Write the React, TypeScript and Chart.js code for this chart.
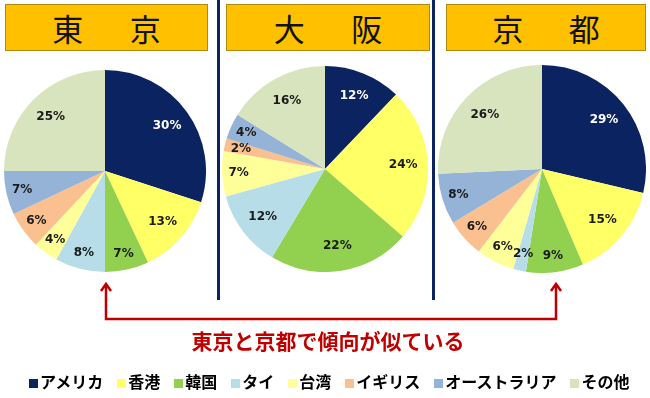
import React, { useEffect, useRef } from "react";
import { Chart, registerables } from "chart.js";

Chart.register(...registerables);

const categories = ["アメリカ", "香港", "韓国", "タイ", "台湾", "イギリス", "オーストラリア", "その他"];
const colors = ["#0B2461", "#FFFF66", "#92D050", "#B7DEE8", "#FFFF99", "#FAC090", "#95B3D7", "#D7E4BD"];
const cities = ["東京", "大阪", "京都"];
const tokyoValues = [30, 13, 7, 8, 4, 6, 7, 25];
const osakaValues = [12, 24, 22, 12, 7, 2, 4, 16];
const kyotoValues = [29, 15, 9, 2, 6, 6, 8, 26];
const seriesValues = [tokyoValues, osakaValues, kyotoValues];
const noteText = "東京と京都で傾向が似ている";

const labelPlugin = {
  id: "pctLabels",
  afterDatasetsDraw(chart: any) {
    const ctx = chart.ctx;
    const meta = chart.getDatasetMeta(0);
    const data = chart.data.datasets[0].data as number[];
    ctx.save();
    ctx.font = "bold 12px 'DejaVu Sans', Verdana, sans-serif";
    ctx.textAlign = "center";
    ctx.textBaseline = "middle";
    meta.data.forEach((arc: any, i: number) => {
      const p = arc.getProps(["x", "y", "startAngle", "endAngle", "outerRadius"], true);
      const mid = (p.startAngle + p.endAngle) / 2;
      const v = data[i];
      const f = v < 10 ? 0.84 : 0.76;
      const x = p.x + Math.cos(mid) * p.outerRadius * f;
      const y = p.y + Math.sin(mid) * p.outerRadius * f;
      ctx.fillStyle = i === 0 ? "#FFFFFF" : "#1A1A1A";
      ctx.fillText(v + "%", x, y);
    });
    ctx.restore();
  },
};

function Pie({ values, size }: { values: number[]; size: number }) {
  const ref = useRef<HTMLCanvasElement>(null);
  useEffect(() => {
    if (!ref.current) return;
    const chart = new Chart(ref.current, {
      type: "pie",
      data: {
        labels: categories,
        datasets: [{ data: values, backgroundColor: colors, borderWidth: 0 }],
      },
      options: {
        responsive: false,
        animation: false,
        layout: { padding: 0 },
        plugins: { legend: { display: false }, tooltip: { enabled: false }, title: { display: false } },
      },
      plugins: [labelPlugin],
    });
    return () => chart.destroy();
  }, [values]);
  return <canvas ref={ref} width={size} height={size} style={{ width: size, height: size, display: "block" }} />;
}

const pieBoxes = [
  { left: 4, top: 70, size: 202 },
  { left: 222, top: 66, size: 206 },
  { left: 438, top: 65, size: 208 },
];
const titleBoxes = [
  { left: 5, width: 203 },
  { left: 226, width: 204 },
  { left: 446, width: 200 },
];
const dividers = [217, 432];

export default function App() {
  const jp = "'Noto Sans CJK JP', 'Noto Sans', sans-serif";
  return (
    <div style={{ position: "absolute", left: 0, top: 0, width: 650, height: 398, background: "#fff", overflow: "hidden", fontFamily: jp }}>
      {titleBoxes.map((b, i) => (
        <div
          key={"t" + i}
          style={{
            position: "absolute", left: b.left, top: 4, width: b.width, height: 47, boxSizing: "border-box",
            background: "#FFC000", border: "1px solid #B08A10", display: "flex", justifyContent: "space-evenly",
            alignItems: "center", fontSize: 31, fontWeight: 400, color: "#111", lineHeight: 1,
          }}
        >
          {Array.from(cities[i]).map((c, j) => (
            <span key={j}>{c}</span>
          ))}
        </div>
      ))}
      {dividers.map((x, i) => (
        <div key={"d" + i} style={{ position: "absolute", left: x, top: 0, width: 3, height: 300, background: "#0B2461" }} />
      ))}
      {pieBoxes.map((b, i) => (
        <div key={"p" + i} style={{ position: "absolute", left: b.left, top: b.top, width: b.size, height: b.size }}>
          <Pie values={seriesValues[i]} size={b.size} />
        </div>
      ))}
      <svg style={{ position: "absolute", left: 0, top: 0 }} width={650} height={398}>
        <path d="M106 286 L106 319 L556 319 L556 286" fill="none" stroke="#C00000" strokeWidth={2.5} />
        <path d="M101 291 L106 284 L111 291" fill="none" stroke="#C00000" strokeWidth={2.5} />
        <path d="M551 291 L556 284 L561 291" fill="none" stroke="#C00000" strokeWidth={2.5} />
      </svg>
      <div style={{ position: "absolute", left: 0, width: 656, top: 326, textAlign: "center", color: "#C00000", fontSize: 21, fontWeight: 700, lineHeight: "28px" }}>
        {noteText}
      </div>
      <div style={{ position: "absolute", left: 29, top: 370, display: "flex", alignItems: "center", gap: 14, fontSize: 16, fontWeight: 700, color: "#000", lineHeight: "22px", whiteSpace: "nowrap" }}>
        {categories.map((c, i) => (
          <div key={c} style={{ display: "flex", alignItems: "center" }}>
            <span style={{ display: "inline-block", width: 9, height: 9, background: colors[i], marginRight: 2, marginTop: 4 }} />
            <span>{c}</span>
          </div>
        ))}
      </div>
    </div>
  );
}
